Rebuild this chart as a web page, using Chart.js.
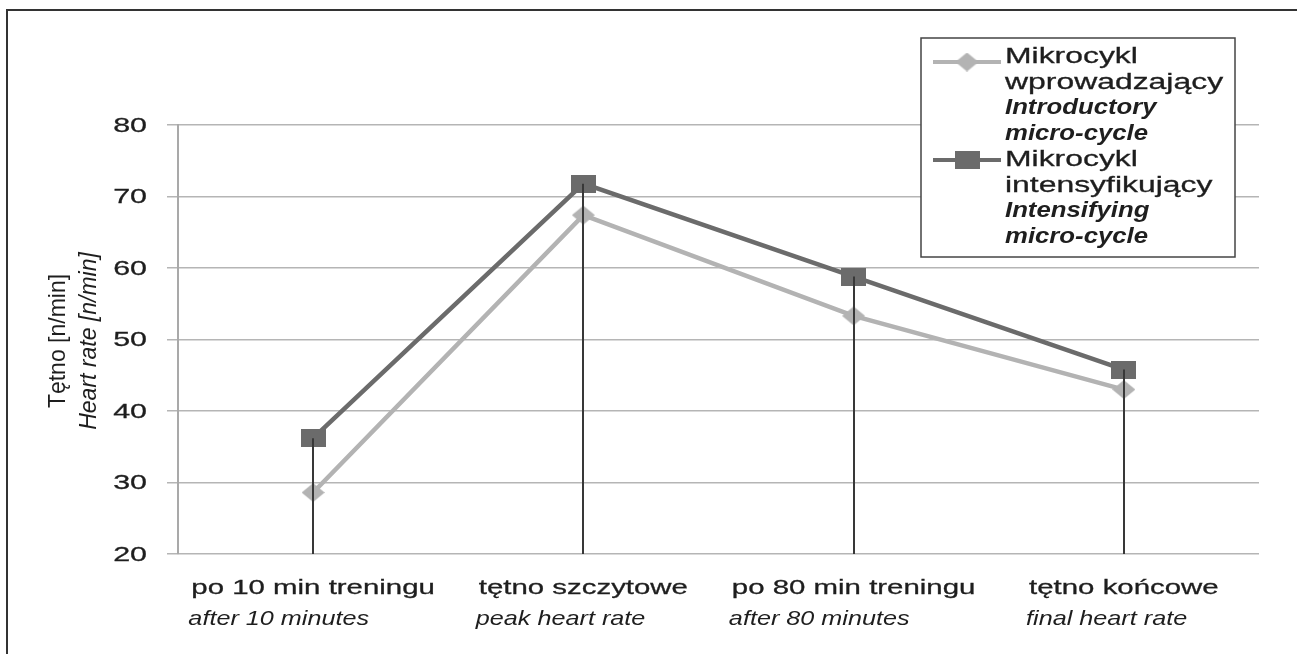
<!DOCTYPE html>
<html>
<head>
<meta charset="utf-8">
<script src="https://cdn.jsdelivr.net/npm/chart.js@4.4.1/dist/chart.umd.min.js"></script>
<style>
  html, body { margin: 0; padding: 0; background: #fff; }
  #wrap { width: 1297px; height: 654px; }
</style>
</head>
<body>
<div id="wrap"><canvas id="myChart"></canvas></div>
<script>
// data
const categoriesPl = ['po 10 min treningu', 'tętno szczytowe', 'po 80 min treningu', 'tętno końcowe'];
const categoriesEn = ['after 10 minutes', 'peak heart rate', 'after 80 minutes', 'final heart rate'];
const introductory = [28.6, 67.4, 53.3, 43.0];
const intensifying = [36.2, 71.8, 58.8, 45.8];
const yTicks = [20, 30, 40, 50, 60, 70, 80];
const yTitle = ['Tętno [n/min]', 'Heart rate [n/min]'];
const legendPl = [['Mikrocykl', 'wprowadzający'], ['Mikrocykl', 'intensyfikujący']];
const legendEn = [['Introductory', 'micro-cycle'], ['Intensifying', 'micro-cycle']];

const lightGrey = '#b3b3b3';
const darkGrey = '#6b6b6b';
const textColor = '#1e1e1e';
const FONT = '"Liberation Sans", Arial, sans-serif';

// stretched markers like in the scan
function makeMarker(w, h, color, diamond) {
  const c = document.createElement('canvas');
  c.width = w; c.height = h;
  const g = c.getContext('2d');
  g.fillStyle = color;
  if (diamond) {
    g.beginPath();
    g.moveTo(w / 2, 0); g.lineTo(w, h / 2); g.lineTo(w / 2, h); g.lineTo(0, h / 2);
    g.closePath(); g.fill();
  } else {
    g.fillRect(0, 0, w, h);
  }
  return c;
}
const diamondMark = makeMarker(23, 19, lightGrey, true);
const squareMark = makeMarker(25, 18, darkGrey, false);

function stretchText(ctx, text, x, y, font, sx, align, heavy) {
  ctx.save();
  ctx.font = font;
  ctx.fillStyle = textColor;
  ctx.strokeStyle = textColor;
  ctx.lineWidth = 0.3;
  ctx.textBaseline = 'middle';
  ctx.textAlign = align;
  ctx.translate(x, y);
  ctx.scale(sx, 1);
  ctx.fillText(text, 0, 0);
  if (heavy) ctx.strokeText(text, 0, 0);
  ctx.restore();
}

// frame, drop lines, labels, legend
const extras = {
  id: 'extras',
  beforeDraw(chart) {
    const ctx = chart.ctx;
    ctx.save();
    ctx.strokeStyle = '#333';
    ctx.lineWidth = 2;
    ctx.beginPath();
    ctx.moveTo(7, 654); ctx.lineTo(7, 10); ctx.lineTo(1297, 10);
    ctx.stroke();
    ctx.restore();
  },
  afterDatasetsDraw(chart) {
    const ctx = chart.ctx;
    const x = chart.scales.x, y = chart.scales.y;
    ctx.save();
    ctx.strokeStyle = '#383838';
    ctx.lineWidth = 2;
    for (let i = 0; i < categoriesPl.length; i++) {
      const px = Math.round(x.getPixelForValue(i));
      const top = y.getPixelForValue(Math.max(introductory[i], intensifying[i]));
      ctx.beginPath();
      ctx.moveTo(px, y.getPixelForValue(20));
      ctx.lineTo(px, top);
      ctx.stroke();
    }
    ctx.restore();
  },
  afterDraw(chart) {
    const ctx = chart.ctx;
    const x = chart.scales.x, y = chart.scales.y;

    // y tick labels
    yTicks.forEach(v => {
      stretchText(ctx, String(v), 147, y.getPixelForValue(v) + 1, '21px ' + FONT, 1.45, 'right', true);
    });

    // x labels: first line centred, second line left aligned under it
    for (let i = 0; i < categoriesPl.length; i++) {
      const cx = x.getPixelForValue(i);
      ctx.font = '21px ' + FONT;
      const w = ctx.measureText(categoriesPl[i]).width * 1.4;
      const start = cx - w / 2;
      stretchText(ctx, categoriesPl[i], start, 588, '21px ' + FONT, 1.4, 'left', true);
      stretchText(ctx, categoriesEn[i], start - 3, 619, 'italic 21px ' + FONT, 1.2, 'left', false);
    }

    // y title, rotated
    [[58, yTitle[0], ''], [89, yTitle[1], 'italic ']].forEach(([tx, txt, st]) => {
      ctx.save();
      ctx.translate(tx, 341);
      ctx.rotate(-Math.PI / 2);
      ctx.scale(1.15, 1.2);
      ctx.font = st + '20px ' + FONT;
      ctx.fillStyle = textColor;
      ctx.textAlign = 'center';
      ctx.textBaseline = 'middle';
      ctx.fillText(txt, 0, 0);
      ctx.restore();
    });

    // legend box
    ctx.save();
    ctx.fillStyle = '#fff';
    ctx.fillRect(921, 38, 314, 219);
    ctx.strokeStyle = '#444';
    ctx.lineWidth = 1.5;
    ctx.strokeRect(921, 38, 314, 219);
    ctx.restore();

    const items = [
      { color: lightGrey, mark: diamondMark, y0: 57 },
      { color: darkGrey, mark: squareMark, y0: 160 }
    ];
    items.forEach((it, k) => {
      const ly = it.y0 + (k === 0 ? 5 : 0);
      ctx.save();
      ctx.strokeStyle = it.color;
      ctx.lineWidth = 4;
      ctx.beginPath();
      ctx.moveTo(933, ly); ctx.lineTo(1001, ly);
      ctx.stroke();
      ctx.drawImage(it.mark, 967 - it.mark.width / 2, ly - it.mark.height / 2);
      ctx.restore();
      const lines = [
        [legendPl[k][0], ''], [legendPl[k][1], ''],
        [legendEn[k][0], 'italic bold '], [legendEn[k][1], 'italic bold ']
      ];
      lines.forEach(([txt, st], j) => {
        const sx = st ? 1.17 : 1.45;
        stretchText(ctx, txt, 1005, it.y0 + j * 25.5, st + '22px ' + FONT, sx, 'left', !st);
      });
    });
  }
};

const ctx = document.getElementById('myChart');

const chart = new Chart(ctx, {
  type: 'line',
  data: {
    labels: categoriesPl,
    datasets: [{
      label: legendPl[0].join(' '),
      data: introductory,
      borderColor: lightGrey,
      backgroundColor: lightGrey,
      borderWidth: 4.5,
      pointStyle: diamondMark,
      tension: 0
    }, {
      label: legendPl[1].join(' '),
      data: intensifying,
      borderColor: darkGrey,
      backgroundColor: darkGrey,
      borderWidth: 4.5,
      pointStyle: squareMark,
      tension: 0
    }]
  },
  options: {
    responsive: true,
    maintainAspectRatio: false,
    animation: false,
    layout: { padding: { left: 167, top: 125, right: 38, bottom: 92 } },
    plugins: {
      legend: { display: false },
      tooltip: { enabled: false }
    },
    scales: {
      x: {
        offset: true,
        grid: { display: false },
        border: { display: false },
        ticks: { display: false }
      },
      y: {
        min: 20,
        max: 80,
        grid: { color: '#b5b5b5', lineWidth: 1.5, drawTicks: true, tickLength: 11 },
        border: { color: '#a9a9a9', width: 2 },
        ticks: { display: false, stepSize: 10 }
      }
    }
  },
  plugins: [extras]
});
</script>
</body>
</html>
